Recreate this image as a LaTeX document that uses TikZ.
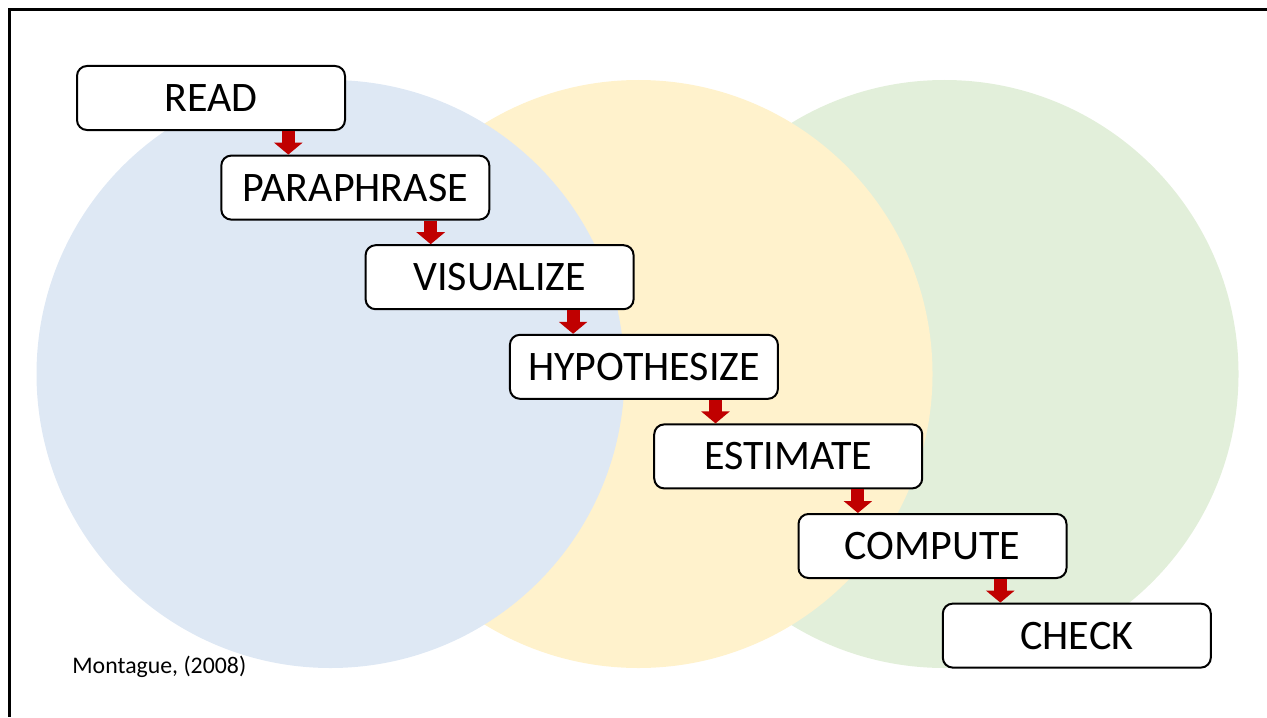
\documentclass[tikz,border=0pt]{standalone}
\usepackage{fontspec}
\setmainfont{Carlito}
\usepackage{tikz}
\usetikzlibrary{arrows.meta,calc}
\definecolor{myblue}{HTML}{DEE8F4}
\definecolor{myyellow}{HTML}{FFF2CC}
\definecolor{mygreen}{HTML}{E2EFDA}
\definecolor{myred}{HTML}{C00000}
\tikzstyle{stepbox} = [draw, line width=1pt, rounded corners=5pt, fill=white, minimum width=134pt, minimum height=32pt, inner sep=0pt, font=\fontsize{21}{24}\selectfont]
\tikzstyle{down} = [myred, line width=6.5pt, -{Triangle[width=14pt,length=6pt]}]

\begin{document}
\begin{tikzpicture}[x=0.5pt,y=-0.5pt]
    \useasboundingbox (0,0) rectangle (1267,717);
    % the three circles, back to front
    \fill[mygreen]  (944.5,374) circle[radius=147pt];
    \fill[myyellow] (638.5,374) circle[radius=147pt];
    \fill[myblue]   (330.5,374) circle[radius=147pt];
    % frame, only top and left edge are seen
    \draw[line width=1.5pt] (1267,9.5) -- (9.5,9.5) -- (9.5,717);

    \foreach \name/\word [count=\i from 0] in {read/READ,para/PARAPHRASE,vis/VISUALIZE,hyp/HYPOTHESIZE,est/ESTIMATE,comp/COMPUTE,check/CHECK}{%
      \node[stepbox] (\name) at (211+144.3*\i, 98+89.6*\i) {\word};  }

    % arrows creep a little to the left from step to step
    \foreach \a/\b [count=\k from 0] in {read/para,para/vis,vis/hyp,hyp/est,est/comp,comp/check}{%
      \coordinate (\b-in) at ($(\b.north west)+(68-1.9*\k,0)$);
      \draw[down] (\a.south -| \b-in) -- (\b-in);  }

    \node[anchor=base west, inner sep=0pt, font=\fontsize{11.9}{14}\selectfont] (cite) at (72,673) {Montague, (2008)};
\end{tikzpicture}
\end{document}
